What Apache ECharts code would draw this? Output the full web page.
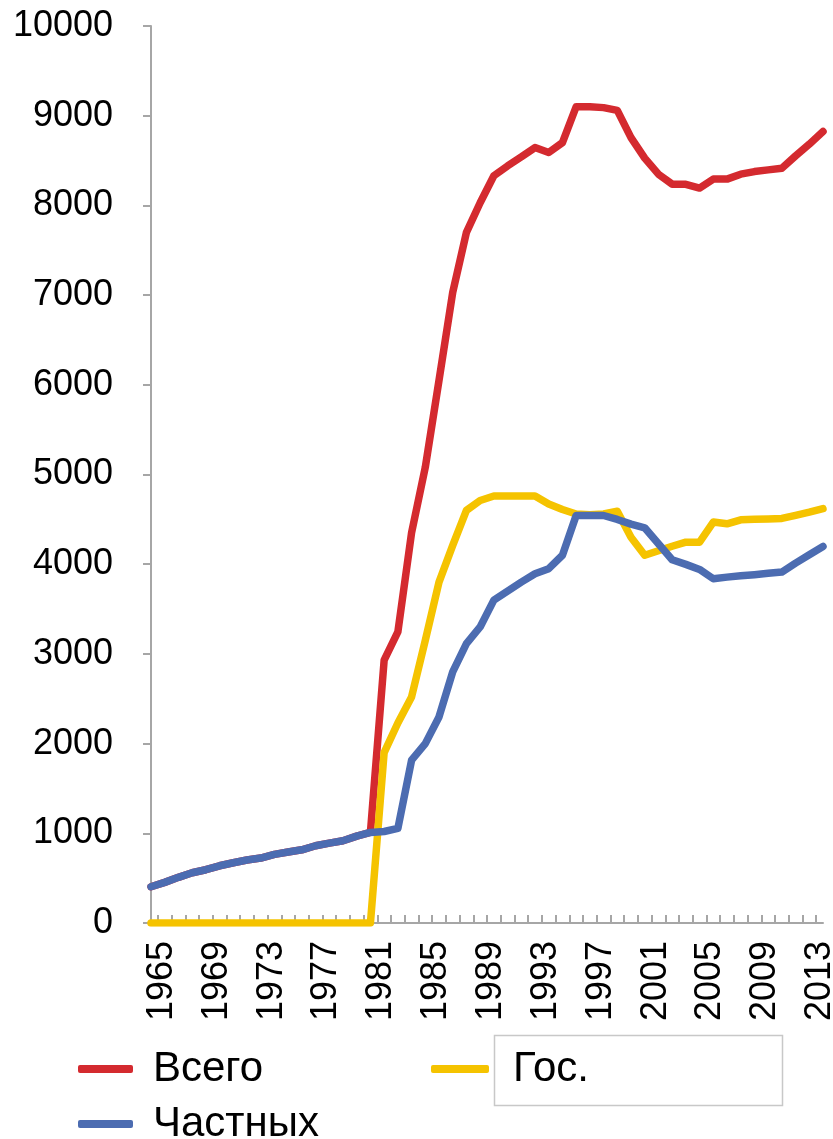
<!DOCTYPE html>
<html>
<head>
<meta charset="utf-8">
<script src="https://cdn.jsdelivr.net/npm/echarts@6/dist/echarts.min.js"></script>
<style>
html,body{margin:0;padding:0;background:#fff;}
#chart{width:833px;height:1139px;}
</style>
</head>
<body>
<div id="chart"></div>
<script>
var years = ['1965','1966','1967','1968','1969','1970','1971','1972','1973','1974',
  '1975','1976','1977','1978','1979','1980','1981','1982','1983','1984',
  '1985','1986','1987','1988','1989','1990','1991','1992','1993','1994',
  '1995','1996','1997','1998','1999','2000','2001','2002','2003','2004',
  '2005','2006','2007','2008','2009','2010','2011','2012','2013','2014'];

var seriesNames = ['Всего', 'Гос.', 'Частных'];

var totalValues = [404,453,509,560,594,638,672,702,724,765,
  791,816,861,891,917,969,1010,2930,3245,4350,
  5080,6050,7030,7700,8030,8330,8440,8540,8645,8590,
  8700,9100,9100,9090,9060,8756,8527,8348,8237,8235,
  8193,8293,8293,8348,8377,8396,8415,8552,8682,8823];

var govValues = [0,0,0,0,0,0,0,0,0,0,
  0,0,0,0,0,0,0,1900,2230,2520,
  3150,3800,4210,4600,4710,4760,4760,4760,4760,4670,
  4610,4560,4550,4560,4590,4300,4100,4150,4200,4246,
  4246,4470,4450,4495,4500,4505,4510,4545,4580,4620];

var privateValues = [404,453,509,560,594,638,672,702,724,765,
  791,816,861,891,917,969,1010,1020,1054,1815,
  2000,2297,2800,3114,3300,3600,3700,3800,3894,3950,
  4100,4543,4543,4543,4499,4447,4406,4228,4050,3998,
  3942,3838,3856,3871,3883,3898,3912,4012,4106,4198];

var yTicks = {min: 0, max: 10000, interval: 1000};

var colors = ['#d42a2f', '#f5c300', '#4c6cb1'];
var font = "'Liberation Sans', Arial, sans-serif";

var chart = echarts.init(document.getElementById('chart'), null, {renderer: 'canvas'});

var gridLeft = 151, gridRight = 10, gridTop = 26, gridBottom = 216;
var plotW = 833 - gridLeft - gridRight;
var step = plotW / (years.length - 1);

var option = {
  animation: false,
  backgroundColor: '#ffffff',
  grid: [
    {left: gridLeft, right: gridRight, top: gridTop, bottom: gridBottom, containLabel: false, outerBoundsMode: 'none'},
    {left: gridLeft + step / 2, width: step * (years.length - 2), top: gridTop, bottom: gridBottom, containLabel: false, outerBoundsMode: 'none'}
  ],
  xAxis: [
    {
      type: 'category', gridIndex: 0, data: years, boundaryGap: false,
      axisLine: {show: true, lineStyle: {color: '#a6a6a6', width: 2}},
      axisTick: {show: false},
      axisLabel: {interval: 3, rotate: 90, fontSize: 36, color: '#000', fontFamily: font, margin: 18,
                  verticalAlign: 'top', lineHeight: 22},
      splitLine: {show: false}
    },
    {
      type: 'value', gridIndex: 1, min: 0, max: years.length - 2, interval: 1,
      axisLine: {show: false},
      axisTick: {show: true, inside: true, length: 8, lineStyle: {color: '#a6a6a6', width: 2}},
      axisLabel: {show: false},
      splitLine: {show: false}
    }
  ],
  yAxis: [
    {
      type: 'value', gridIndex: 0, min: yTicks.min, max: yTicks.max, interval: yTicks.interval,
      axisLine: {show: true, lineStyle: {color: '#a6a6a6', width: 2}},
      axisTick: {show: true, inside: false, length: 8, lineStyle: {color: '#a6a6a6', width: 2}},
      axisLabel: {fontSize: 36, color: '#000', fontFamily: font, margin: 38,
                  formatter: function (v) { return String(v); }},
      splitLine: {show: false}
    },
    {type: 'value', gridIndex: 1, min: 0, max: 1, show: false}
  ],
  legend: [
    {
      data: [seriesNames[0]], left: 78, top: 1048, orient: 'horizontal', padding: 0,
      icon: 'roundRect', itemWidth: 55, itemHeight: 8,
      textStyle: {fontSize: 42, color: '#000', fontFamily: font, padding: [0, 0, 0, 15]}
    },
    {
      data: [seriesNames[1]], left: 431, top: 1048, orient: 'horizontal', padding: 0,
      icon: 'roundRect', itemWidth: 58, itemHeight: 8,
      textStyle: {fontSize: 42, color: '#000', fontFamily: font, padding: [0, 0, 0, 19]}
    },
    {
      data: [seriesNames[2]], left: 78, top: 1103, orient: 'horizontal', padding: 0,
      icon: 'roundRect', itemWidth: 55, itemHeight: 8,
      textStyle: {fontSize: 42, color: '#000', fontFamily: font, padding: [0, 0, 22, 15]}
    }
  ],
  graphic: [
    {
      type: 'rect', left: 492, top: 1033, z: -1,
      shape: {width: 288, height: 70},
      style: {fill: 'none', stroke: '#c8c8c8', lineWidth: 1.5}
    }
  ],
  series: [
    {name: seriesNames[0], type: 'line', data: totalValues, symbol: 'none', xAxisIndex: 0, yAxisIndex: 0,
     color: colors[0], lineStyle: {width: 7.5, color: colors[0], cap: 'round', join: 'round'}},
    {name: seriesNames[1], type: 'line', data: govValues, symbol: 'none', xAxisIndex: 0, yAxisIndex: 0,
     color: colors[1], lineStyle: {width: 7.5, color: colors[1], cap: 'round', join: 'round'}},
    {name: seriesNames[2], type: 'line', data: privateValues, symbol: 'none', xAxisIndex: 0, yAxisIndex: 0,
     color: colors[2], lineStyle: {width: 7.5, color: colors[2], cap: 'round', join: 'round'}}
  ]
};
chart.setOption(option);
</script>
</body>
</html>
